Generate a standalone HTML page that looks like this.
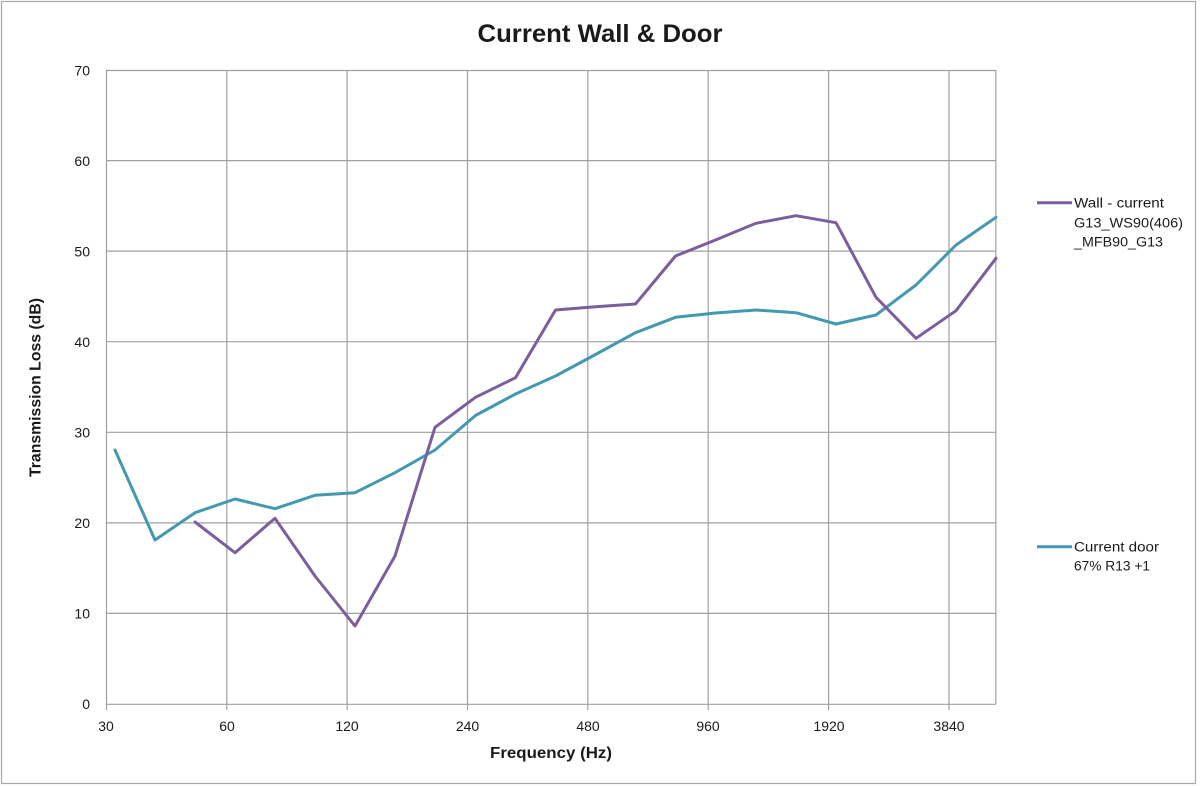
<!DOCTYPE html>
<html>
<head>
<meta charset="utf-8">
<style>
  html, body { margin: 0; padding: 0; background: #ffffff; }
  svg { display: block; }
  text { font-family: "Liberation Sans", Arial, sans-serif; fill: #1a1a1a; }
</style>
</head>
<body>
<svg width="1200" height="786" viewBox="0 0 1200 786" xmlns="http://www.w3.org/2000/svg">
  <rect x="0" y="0" width="1200" height="786" fill="#ffffff"/>
  <!-- outer chart border -->
  <rect x="1.5" y="1.5" width="1194" height="782" fill="none" stroke="#a8a8a8" stroke-width="1.2"/>

  <!-- Title -->
  <text x="600" y="42" text-anchor="middle" font-size="25" font-weight="bold" textLength="245" lengthAdjust="spacingAndGlyphs">Current Wall &amp; Door</text>

  <!-- gridlines horizontal -->
  <g stroke="#a0a0a0" stroke-width="1.2" fill="none">
    <line x1="106" y1="70.5" x2="996" y2="70.5"/>
    <line x1="106" y1="160.6" x2="996" y2="160.6"/>
    <line x1="106" y1="251.1" x2="996" y2="251.1"/>
    <line x1="106" y1="341.7" x2="996" y2="341.7"/>
    <line x1="106" y1="432.3" x2="996" y2="432.3"/>
    <line x1="106" y1="522.9" x2="996" y2="522.9"/>
    <line x1="106" y1="613.4" x2="996" y2="613.4"/>
    <!-- vertical gridlines -->
    <line x1="106.5" y1="70" x2="106.5" y2="710"/>
    <line x1="226.8" y1="70" x2="226.8" y2="710"/>
    <line x1="347.1" y1="70" x2="347.1" y2="710"/>
    <line x1="467.5" y1="70" x2="467.5" y2="710"/>
    <line x1="587.8" y1="70" x2="587.8" y2="710"/>
    <line x1="708.2" y1="70" x2="708.2" y2="710"/>
    <line x1="828.6" y1="70" x2="828.6" y2="710"/>
    <line x1="949" y1="70" x2="949" y2="710"/>
    <line x1="995.8" y1="70" x2="995.8" y2="704"/>
    <!-- x axis -->
    <line x1="106" y1="704.3" x2="996" y2="704.3"/>
  </g>

  <!-- Y tick labels -->
  <g font-size="14" text-anchor="end">
    <text x="90" y="75.5">70</text>
    <text x="90" y="166">60</text>
    <text x="90" y="256.5">50</text>
    <text x="90" y="347">40</text>
    <text x="90" y="437.5">30</text>
    <text x="90" y="528">20</text>
    <text x="90" y="618.5">10</text>
    <text x="90" y="709">0</text>
  </g>

  <!-- X tick labels -->
  <g font-size="14" text-anchor="middle">
    <text x="106" y="731">30</text>
    <text x="227" y="731">60</text>
    <text x="347" y="731">120</text>
    <text x="467.5" y="731">240</text>
    <text x="588" y="731">480</text>
    <text x="708" y="731">960</text>
    <text x="829" y="731">1920</text>
    <text x="949" y="731">3840</text>
  </g>

  <!-- Axis titles -->
  <text x="551" y="758" text-anchor="middle" font-size="16" font-weight="bold" textLength="122" lengthAdjust="spacingAndGlyphs">Frequency (Hz)</text>
  <text transform="translate(40.5,387.5) rotate(-90)" x="0" y="0" text-anchor="middle" font-size="16" font-weight="bold" textLength="179" lengthAdjust="spacingAndGlyphs">Transmission Loss (dB)</text>

  <!-- Door series (teal) -->
  <polyline fill="none" stroke="#4399b0" stroke-width="3" stroke-linejoin="round" stroke-linecap="round"
    points="115,450 155,540 195,512.7 235,499 275,508.7 315,495.3 355,492.7 395,472.7 435,450 475.5,415.5 515.5,394 555.5,376 595.5,354.5 635.5,332.7 675.5,317.3 715.5,313 756,310 796,312.7 836,324 876,315 916,285 956,245 996,217.3"/>

  <!-- Wall series (purple) -->
  <polyline fill="none" stroke="#7b5e9e" stroke-width="3" stroke-linejoin="round" stroke-linecap="round"
    points="195,522 235,552.7 275,518.3 315,576 355,626 395,556 435,427.3 475.5,397.3 515.5,377.7 555.5,310 595.5,306.8 635.5,304 675.5,256 715.5,240 756,223.3 796,215.7 836,222.7 876,297.3 916,338.3 956,310.7 996,258.3"/>

  <!-- Legend -->
  <line x1="1037" y1="202.7" x2="1072" y2="202.7" stroke="#7b5e9e" stroke-width="3"/>
  <g font-size="13.5">
    <text x="1074" y="207.7" textLength="90" lengthAdjust="spacingAndGlyphs">Wall - current</text>
    <text x="1074" y="227.3" textLength="109" lengthAdjust="spacingAndGlyphs">G13_WS90(406)</text>
    <text x="1074" y="246.7" textLength="89" lengthAdjust="spacingAndGlyphs">_MFB90_G13</text>
  </g>
  <line x1="1037" y1="546.7" x2="1072" y2="546.7" stroke="#4399b0" stroke-width="3"/>
  <g font-size="13.5">
    <text x="1074" y="551.7" textLength="85" lengthAdjust="spacingAndGlyphs">Current door</text>
    <text x="1074" y="570.7" textLength="76" lengthAdjust="spacingAndGlyphs">67% R13 +1</text>
  </g>
</svg>
</body>
</html>
